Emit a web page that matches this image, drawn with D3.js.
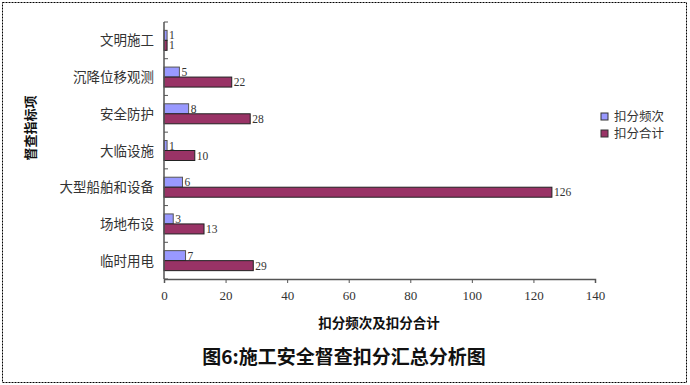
<!DOCTYPE html>
<html>
<head>
<meta charset="utf-8">
<script src="https://cdn.jsdelivr.net/npm/d3@7"></script>
<style>
body { margin: 0; background: #fff; }
svg { display: block; }
</style>
</head>
<body>
<svg id="chart" width="690" height="385"></svg>
<script>
// categories top to bottom
var categories = ["文明施工", "沉降位移观测", "安全防护", "大临设施", "大型船舶和设备", "场地布设", "临时用电"],
    seriesNames = ["扣分频次", "扣分合计"],
    freqValues = [1, 5, 8, 1, 6, 3, 7],
    totalValues = [1, 22, 28, 10, 126, 13, 29],
    xTicks = [0, 20, 40, 60, 80, 100, 120, 140],
    colors = ["#9999ff", "#993366"];

var svg = d3.select("#chart"),
    cjk = "'Noto Sans CJK SC', sans-serif",
    serif = "'Liberation Serif', 'DejaVu Serif', serif";

// outer dashed frame
svg.append("rect")
    .attr("x", 2.5).attr("y", 2.5)
    .attr("width", 684).attr("height", 380)
    .attr("fill", "none")
    .attr("stroke", "#000")
    .attr("stroke-dasharray", "2,1");

var x = d3.scaleLinear().domain([0, 140]).range([164, 595]),
    y = d3.scaleBand().domain(categories).range([22, 279]),
    sub = d3.scaleBand().domain([0, 1]).range([0, 20]);

var g = svg.append("g");

// bars
var series = [freqValues, totalValues];
series.forEach(function (vals, s) {
    g.selectAll(".bar" + s)
        .data(vals)
        .enter().append("rect")
        .attr("x", x(0))
        .attr("y", function (d, i) { return y(categories[i]) + y.bandwidth() / 2 - 10 + sub(s); })
        .attr("width", function (d) { return x(d) - x(0); })
        .attr("height", sub.bandwidth())
        .attr("fill", colors[s])
        .attr("stroke", s === 0 ? "#555" : "#222")
        .attr("stroke-width", 1);
    g.selectAll(".lbl" + s)
        .data(vals)
        .enter().append("text")
        .attr("x", function (d) { return x(d) + 2; })
        .attr("y", function (d, i) { return y(categories[i]) + y.bandwidth() / 2 - 5 + sub(s) + 4; })
        .attr("font-family", serif)
        .attr("font-size", 11.5)
        .attr("fill", "#333")
        .text(function (d) { return d; });
});

// x axis
var xAxis = svg.append("g")
    .attr("transform", "translate(0,279)")
    .call(d3.axisBottom(x).tickValues(xTicks).tickSize(4).tickSizeOuter(4));
xAxis.select(".domain").attr("stroke", "#555").attr("stroke-width", 1.5);
xAxis.selectAll(".tick line").attr("stroke", "#555");
xAxis.selectAll("text")
    .attr("font-family", serif)
    .attr("font-size", 13)
    .attr("fill", "#333")
    .attr("dy", "1.1em");

// y axis
var yTicks = d3.range(categories.length + 1).map(function (i) { return 22 + i * y.step(); });
var yAxis = svg.append("g");
yAxis.append("line")
    .attr("x1", 164).attr("x2", 164).attr("y1", 22).attr("y2", 279)
    .attr("stroke", "#555").attr("stroke-width", 1.5);
yAxis.selectAll(".yt")
    .data(yTicks)
    .enter().append("line")
    .attr("x1", 164).attr("x2", 168)
    .attr("y1", function (d) { return d; }).attr("y2", function (d) { return d; })
    .attr("stroke", "#555");
yAxis.selectAll(".ylbl")
    .data(categories)
    .enter().append("text")
    .attr("x", 154)
    .attr("y", function (d) { return y(d) + y.bandwidth() / 2 + 5; })
    .attr("text-anchor", "end")
    .attr("font-family", cjk)
    .attr("font-size", 13.5)
    .attr("fill", "#333")
    .text(function (d) { return d; });

// axis titles
svg.append("text")
    .attr("transform", "translate(35,128) rotate(-90)")
    .attr("text-anchor", "middle")
    .attr("font-family", cjk)
    .attr("font-weight", "bold")
    .attr("font-size", 13)
    .attr("fill", "#111")
    .text("督查指标项");
svg.append("text")
    .attr("x", 379).attr("y", 328)
    .attr("text-anchor", "middle")
    .attr("font-family", cjk)
    .attr("font-weight", "bold")
    .attr("font-size", 13.5)
    .attr("fill", "#111")
    .text("扣分频次及扣分合计");

// chart title
svg.append("text")
    .attr("x", 344).attr("y", 364)
    .attr("text-anchor", "middle")
    .attr("font-family", cjk)
    .attr("font-weight", "bold")
    .attr("font-size", 19)
    .attr("fill", "#111")
    .text("图6:施工安全督查扣分汇总分析图");

// legend
var legend = svg.append("g").selectAll("g")
    .data(seriesNames)
    .enter().append("g")
    .attr("transform", function (d, i) { return "translate(601," + (113 + i * 17) + ")"; });
legend.append("rect")
    .attr("width", 7).attr("height", 7)
    .attr("fill", function (d, i) { return colors[i]; })
    .attr("stroke", "#333");
legend.append("text")
    .attr("x", 13).attr("y", 8)
    .attr("font-family", cjk)
    .attr("font-size", 12.5)
    .attr("fill", "#333")
    .text(function (d) { return d; });
</script>
</body>
</html>
